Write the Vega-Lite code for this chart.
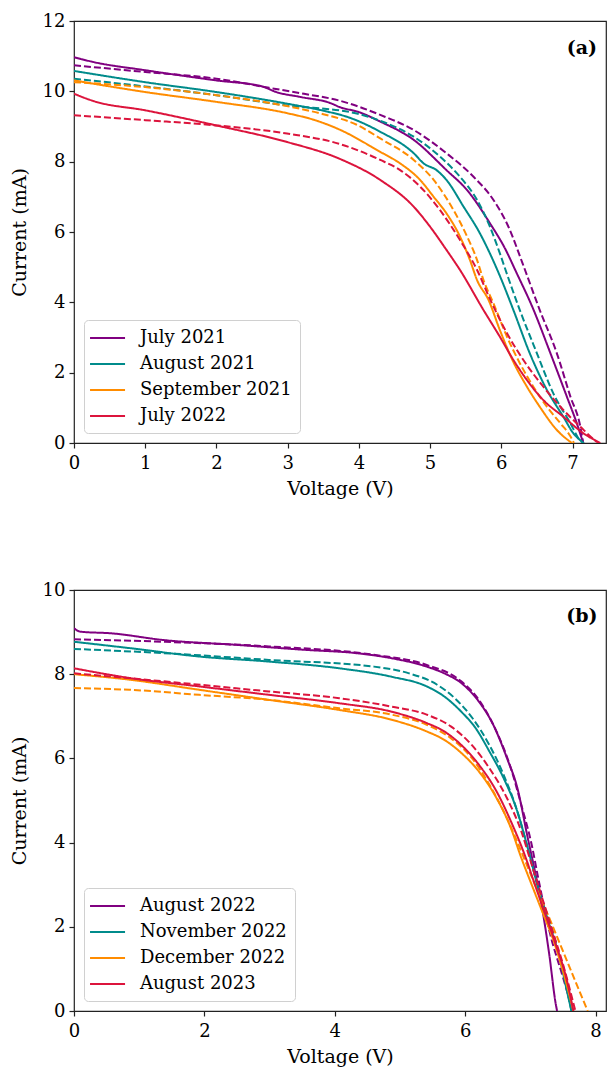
{
  "$schema": "https://vega.github.io/schema/vega-lite/v6.json",
  "background": "white",
  "padding": {"left": 9, "top": 11, "right": 0, "bottom": 0},
  "autosize": {"type": "pad"},
  "spacing": 81,
  "config": {
    "font": "DejaVu Serif",
    "view": {"stroke": "#222", "strokeWidth": 1.2},
    "axis": {"domain": false, "grid": false, "tickColor": "#222", "tickSize": 5, "tickWidth": 1.2, "labelFont": "DejaVu Serif", "labelFontSize": 18, "labelColor": "#000", "titleFont": "DejaVu Serif", "titleFontSize": 19, "titleFontWeight": "normal", "titleColor": "#000", "labelPadding": 4, "titlePadding": 5, "format": "d", "labelFlush": false},
    "axisX": {"labelPadding": 6, "titlePadding": 7},
    "axisY": {"titlePadding": 13},
    "legend": {"symbolType": "M-1.33,0H2.56", "symbolStrokeWidth": 2, "symbolSize": 324, "labelFont": "DejaVu Serif", "labelFontSize": 18, "labelColor": "#000", "fillColor": "white", "strokeColor": "#d0d0d0", "cornerRadius": 4, "padding": 8, "rowPadding": 7, "labelOffset": 28, "offset": 10, "title": null}
  },
  "datasets": {
    "a": [
      {"series":"July 2021","kind":"measured","V":0,"I":10.97},{"series":"July 2021","kind":"measured","V":0.28,"I":10.83},{"series":"July 2021","kind":"measured","V":1.0,"I":10.6},{"series":"July 2021","kind":"measured","V":2.0,"I":10.31},{"series":"July 2021","kind":"measured","V":2.64,"I":10.14},{"series":"July 2021","kind":"measured","V":2.84,"I":9.98},{"series":"July 2021","kind":"measured","V":3.18,"I":9.84},{"series":"July 2021","kind":"measured","V":3.62,"I":9.65},{"series":"July 2021","kind":"measured","V":3.72,"I":9.56},{"series":"July 2021","kind":"measured","V":4.0,"I":9.41},{"series":"July 2021","kind":"measured","V":4.3,"I":9.14},{"series":"July 2021","kind":"measured","V":4.77,"I":8.62},{"series":"July 2021","kind":"measured","V":5.23,"I":7.76},{"series":"July 2021","kind":"measured","V":5.52,"I":7.19},{"series":"July 2021","kind":"measured","V":5.84,"I":6.25},{"series":"July 2021","kind":"measured","V":6.06,"I":5.5},{"series":"July 2021","kind":"measured","V":6.2,"I":4.9},{"series":"July 2021","kind":"measured","V":6.45,"I":3.8},{"series":"July 2021","kind":"measured","V":6.69,"I":2.55},{"series":"July 2021","kind":"measured","V":6.92,"I":1.32},{"series":"July 2021","kind":"measured","V":7.06,"I":0.56},{"series":"July 2021","kind":"measured","V":7.15,"I":0},
      {"series":"July 2021","kind":"simulated","V":0,"I":10.74},{"series":"July 2021","kind":"simulated","V":1,"I":10.55},{"series":"July 2021","kind":"simulated","V":2,"I":10.36},{"series":"July 2021","kind":"simulated","V":2.74,"I":10.1},{"series":"July 2021","kind":"simulated","V":3.23,"I":9.93},{"series":"July 2021","kind":"simulated","V":3.72,"I":9.74},{"series":"July 2021","kind":"simulated","V":4.3,"I":9.33},{"series":"July 2021","kind":"simulated","V":4.77,"I":8.9},{"series":"July 2021","kind":"simulated","V":5.23,"I":8.24},{"series":"July 2021","kind":"simulated","V":5.61,"I":7.57},{"series":"July 2021","kind":"simulated","V":5.89,"I":6.91},{"series":"July 2021","kind":"simulated","V":6.1,"I":6.15},{"series":"July 2021","kind":"simulated","V":6.3,"I":5.1},{"series":"July 2021","kind":"simulated","V":6.54,"I":3.78},{"series":"July 2021","kind":"simulated","V":6.78,"I":2.55},{"series":"July 2021","kind":"simulated","V":6.97,"I":1.32},{"series":"July 2021","kind":"simulated","V":7.11,"I":0.46},{"series":"July 2021","kind":"simulated","V":7.15,"I":0},
      {"series":"August 2021","kind":"measured","V":0,"I":10.58},{"series":"August 2021","kind":"measured","V":1,"I":10.26},{"series":"August 2021","kind":"measured","V":2,"I":9.98},{"series":"August 2021","kind":"measured","V":2.99,"I":9.65},{"series":"August 2021","kind":"measured","V":3.5,"I":9.45},{"series":"August 2021","kind":"measured","V":3.87,"I":9.25},{"series":"August 2021","kind":"measured","V":4.3,"I":8.85},{"series":"August 2021","kind":"measured","V":4.77,"I":8.24},{"series":"August 2021","kind":"measured","V":4.91,"I":7.95},{"series":"August 2021","kind":"measured","V":5.09,"I":7.76},{"series":"August 2021","kind":"measured","V":5.23,"I":7.48},{"series":"August 2021","kind":"measured","V":5.47,"I":6.72},{"series":"August 2021","kind":"measured","V":5.7,"I":5.96},{"series":"August 2021","kind":"measured","V":5.84,"I":5.39},{"series":"August 2021","kind":"measured","V":5.98,"I":4.75},{"series":"August 2021","kind":"measured","V":6.17,"I":3.78},{"series":"August 2021","kind":"measured","V":6.4,"I":2.55},{"series":"August 2021","kind":"measured","V":6.64,"I":1.51},{"series":"August 2021","kind":"measured","V":6.87,"I":0.75},{"series":"August 2021","kind":"measured","V":7.01,"I":0.28},{"series":"August 2021","kind":"measured","V":7.16,"I":0},
      {"series":"August 2021","kind":"simulated","V":0,"I":10.36},{"series":"August 2021","kind":"simulated","V":1,"I":10.14},{"series":"August 2021","kind":"simulated","V":2,"I":9.89},{"series":"August 2021","kind":"simulated","V":2.99,"I":9.6},{"series":"August 2021","kind":"simulated","V":3.97,"I":9.37},{"series":"August 2021","kind":"simulated","V":4.3,"I":9.16},{"series":"August 2021","kind":"simulated","V":4.77,"I":8.71},{"series":"August 2021","kind":"simulated","V":5.14,"I":8.14},{"series":"August 2021","kind":"simulated","V":5.42,"I":7.57},{"series":"August 2021","kind":"simulated","V":5.66,"I":6.91},{"series":"August 2021","kind":"simulated","V":5.84,"I":6.15},{"series":"August 2021","kind":"simulated","V":5.98,"I":5.39},{"series":"August 2021","kind":"simulated","V":6.08,"I":4.8},{"series":"August 2021","kind":"simulated","V":6.26,"I":3.78},{"series":"August 2021","kind":"simulated","V":6.5,"I":2.55},{"series":"August 2021","kind":"simulated","V":6.73,"I":1.41},{"series":"August 2021","kind":"simulated","V":6.97,"I":0.56},{"series":"August 2021","kind":"simulated","V":7.1,"I":0.09},{"series":"August 2021","kind":"simulated","V":7.15,"I":0},
      {"series":"September 2021","kind":"measured","V":0,"I":10.31},{"series":"September 2021","kind":"measured","V":1,"I":9.98},{"series":"September 2021","kind":"measured","V":2,"I":9.7},{"series":"September 2021","kind":"measured","V":2.99,"I":9.38},{"series":"September 2021","kind":"measured","V":3.4,"I":9.17},{"series":"September 2021","kind":"measured","V":3.72,"I":8.92},{"series":"September 2021","kind":"measured","V":4.3,"I":8.28},{"series":"September 2021","kind":"measured","V":4.58,"I":7.95},{"series":"September 2021","kind":"measured","V":4.86,"I":7.48},{"series":"September 2021","kind":"measured","V":5.05,"I":7.0},{"series":"September 2021","kind":"measured","V":5.23,"I":6.53},{"series":"September 2021","kind":"measured","V":5.42,"I":5.87},{"series":"September 2021","kind":"measured","V":5.56,"I":5.2},{"series":"September 2021","kind":"measured","V":5.66,"I":4.63},{"series":"September 2021","kind":"measured","V":5.82,"I":4.07},{"series":"September 2021","kind":"measured","V":5.98,"I":3.21},{"series":"September 2021","kind":"measured","V":6.17,"I":2.3},{"series":"September 2021","kind":"measured","V":6.36,"I":1.6},{"series":"September 2021","kind":"measured","V":6.54,"I":1.03},{"series":"September 2021","kind":"measured","V":6.78,"I":0.37},{"series":"September 2021","kind":"measured","V":6.99,"I":0},
      {"series":"September 2021","kind":"simulated","V":0,"I":10.26},{"series":"September 2021","kind":"simulated","V":1,"I":10.12},{"series":"September 2021","kind":"simulated","V":2,"I":9.89},{"series":"September 2021","kind":"simulated","V":2.99,"I":9.58},{"series":"September 2021","kind":"simulated","V":3.5,"I":9.35},{"series":"September 2021","kind":"simulated","V":3.97,"I":9.05},{"series":"September 2021","kind":"simulated","V":4.3,"I":8.66},{"series":"September 2021","kind":"simulated","V":4.77,"I":8.05},{"series":"September 2021","kind":"simulated","V":5.05,"I":7.48},{"series":"September 2021","kind":"simulated","V":5.33,"I":6.62},{"series":"September 2021","kind":"simulated","V":5.52,"I":5.87},{"series":"September 2021","kind":"simulated","V":5.66,"I":5.2},{"series":"September 2021","kind":"simulated","V":5.75,"I":4.63},{"series":"September 2021","kind":"simulated","V":5.89,"I":3.97},{"series":"September 2021","kind":"simulated","V":6.08,"I":3.02},{"series":"September 2021","kind":"simulated","V":6.26,"I":2.27},{"series":"September 2021","kind":"simulated","V":6.45,"I":1.6},{"series":"September 2021","kind":"simulated","V":6.64,"I":1.03},{"series":"September 2021","kind":"simulated","V":6.83,"I":0.56},{"series":"September 2021","kind":"simulated","V":6.97,"I":0.19},{"series":"September 2021","kind":"simulated","V":7.02,"I":0},
      {"series":"July 2022","kind":"measured","V":0,"I":9.93},{"series":"July 2022","kind":"measured","V":0.28,"I":9.72},{"series":"July 2022","kind":"measured","V":1,"I":9.46},{"series":"July 2022","kind":"measured","V":2,"I":9.03},{"series":"July 2022","kind":"measured","V":2.99,"I":8.56},{"series":"July 2022","kind":"measured","V":3.72,"I":8.09},{"series":"July 2022","kind":"measured","V":4.3,"I":7.48},{"series":"July 2022","kind":"measured","V":4.77,"I":6.72},{"series":"July 2022","kind":"measured","V":5.0,"I":6.15},{"series":"July 2022","kind":"measured","V":5.23,"I":5.49},{"series":"July 2022","kind":"measured","V":5.42,"I":4.92},{"series":"July 2022","kind":"measured","V":5.75,"I":3.78},{"series":"July 2022","kind":"measured","V":5.98,"I":3.02},{"series":"July 2022","kind":"measured","V":6.17,"I":2.36},{"series":"July 2022","kind":"measured","V":6.36,"I":1.79},{"series":"July 2022","kind":"measured","V":6.59,"I":1.22},{"series":"July 2022","kind":"measured","V":6.87,"I":0.75},{"series":"July 2022","kind":"measured","V":7.15,"I":0.28},{"series":"July 2022","kind":"measured","V":7.39,"I":0},
      {"series":"July 2022","kind":"simulated","V":0,"I":9.32},{"series":"July 2022","kind":"simulated","V":1,"I":9.18},{"series":"July 2022","kind":"simulated","V":2,"I":9.03},{"series":"July 2022","kind":"simulated","V":2.99,"I":8.8},{"series":"July 2022","kind":"simulated","V":3.72,"I":8.51},{"series":"July 2022","kind":"simulated","V":4.3,"I":8.05},{"series":"July 2022","kind":"simulated","V":4.58,"I":7.76},{"series":"July 2022","kind":"simulated","V":4.86,"I":7.29},{"series":"July 2022","kind":"simulated","V":5.14,"I":6.62},{"series":"July 2022","kind":"simulated","V":5.42,"I":5.77},{"series":"July 2022","kind":"simulated","V":5.66,"I":4.92},{"series":"July 2022","kind":"simulated","V":5.84,"I":4.1},{"series":"July 2022","kind":"simulated","V":6.08,"I":3.12},{"series":"July 2022","kind":"simulated","V":6.31,"I":2.36},{"series":"July 2022","kind":"simulated","V":6.59,"I":1.6},{"series":"July 2022","kind":"simulated","V":6.83,"I":1.03},{"series":"July 2022","kind":"simulated","V":7.11,"I":0.46},{"series":"July 2022","kind":"simulated","V":7.34,"I":0.04},{"series":"July 2022","kind":"simulated","V":7.37,"I":0}
    ],
    "b": [
      {"series":"August 2022","kind":"measured","V":0,"I":9.09},{"series":"August 2022","kind":"measured","V":0.1,"I":9.01},{"series":"August 2022","kind":"measured","V":0.58,"I":8.97},{"series":"August 2022","kind":"measured","V":1.38,"I":8.81},{"series":"August 2022","kind":"measured","V":2.46,"I":8.7},{"series":"August 2022","kind":"measured","V":3.53,"I":8.58},{"series":"August 2022","kind":"measured","V":4.33,"I":8.5},{"series":"August 2022","kind":"measured","V":4.87,"I":8.38},{"series":"August 2022","kind":"measured","V":5.41,"I":8.18},{"series":"August 2022","kind":"measured","V":5.68,"I":8.02},{"series":"August 2022","kind":"measured","V":5.94,"I":7.79},{"series":"August 2022","kind":"measured","V":6.21,"I":7.35},{"series":"August 2022","kind":"measured","V":6.43,"I":6.8},{"series":"August 2022","kind":"measured","V":6.64,"I":6.01},{"series":"August 2022","kind":"measured","V":6.8,"I":5.3},{"series":"August 2022","kind":"measured","V":6.96,"I":4.11},{"series":"August 2022","kind":"measured","V":7.07,"I":3.32},{"series":"August 2022","kind":"measured","V":7.18,"I":2.45},{"series":"August 2022","kind":"measured","V":7.29,"I":1.34},{"series":"August 2022","kind":"measured","V":7.39,"I":0.16},{"series":"August 2022","kind":"measured","V":7.41,"I":0},
      {"series":"August 2022","kind":"simulated","V":0,"I":8.83},{"series":"August 2022","kind":"simulated","V":1.38,"I":8.77},{"series":"August 2022","kind":"simulated","V":2.99,"I":8.66},{"series":"August 2022","kind":"simulated","V":4.6,"I":8.46},{"series":"August 2022","kind":"simulated","V":5.41,"I":8.22},{"series":"August 2022","kind":"simulated","V":5.94,"I":7.83},{"series":"August 2022","kind":"simulated","V":6.21,"I":7.39},{"series":"August 2022","kind":"simulated","V":6.48,"I":6.64},{"series":"August 2022","kind":"simulated","V":6.7,"I":5.77},{"series":"August 2022","kind":"simulated","V":6.86,"I":4.9},{"series":"August 2022","kind":"simulated","V":7.02,"I":3.95},{"series":"August 2022","kind":"simulated","V":7.12,"I":3.16},{"series":"August 2022","kind":"simulated","V":7.3,"I":1.85},{"series":"August 2022","kind":"simulated","V":7.5,"I":0.8},{"series":"August 2022","kind":"simulated","V":7.65,"I":0},
      {"series":"November 2022","kind":"measured","V":0,"I":8.77},{"series":"November 2022","kind":"measured","V":0.85,"I":8.62},{"series":"November 2022","kind":"measured","V":1.92,"I":8.42},{"series":"November 2022","kind":"measured","V":2.99,"I":8.3},{"series":"November 2022","kind":"measured","V":4.07,"I":8.14},{"series":"November 2022","kind":"measured","V":4.87,"I":7.94},{"series":"November 2022","kind":"measured","V":5.41,"I":7.71},{"series":"November 2022","kind":"measured","V":5.68,"I":7.47},{"series":"November 2022","kind":"measured","V":5.94,"I":7.11},{"series":"November 2022","kind":"measured","V":6.16,"I":6.72},{"series":"November 2022","kind":"measured","V":6.37,"I":6.17},{"series":"November 2022","kind":"measured","V":6.59,"I":5.53},{"series":"November 2022","kind":"measured","V":6.8,"I":4.74},{"series":"November 2022","kind":"measured","V":6.96,"I":3.87},{"series":"November 2022","kind":"measured","V":7.12,"I":2.92},{"series":"November 2022","kind":"measured","V":7.29,"I":2.06},{"series":"November 2022","kind":"measured","V":7.45,"I":1.26},{"series":"November 2022","kind":"measured","V":7.55,"I":0.55},{"series":"November 2022","kind":"measured","V":7.63,"I":0},
      {"series":"November 2022","kind":"simulated","V":0,"I":8.6},{"series":"November 2022","kind":"simulated","V":1.38,"I":8.5},{"series":"November 2022","kind":"simulated","V":2.99,"I":8.34},{"series":"November 2022","kind":"simulated","V":4.6,"I":8.18},{"series":"November 2022","kind":"simulated","V":5.14,"I":8.02},{"series":"November 2022","kind":"simulated","V":5.57,"I":7.75},{"series":"November 2022","kind":"simulated","V":5.84,"I":7.43},{"series":"November 2022","kind":"simulated","V":6.11,"I":6.96},{"series":"November 2022","kind":"simulated","V":6.37,"I":6.32},{"series":"November 2022","kind":"simulated","V":6.59,"I":5.61},{"series":"November 2022","kind":"simulated","V":6.8,"I":4.74},{"series":"November 2022","kind":"simulated","V":6.96,"I":3.87},{"series":"November 2022","kind":"simulated","V":7.12,"I":2.92},{"series":"November 2022","kind":"simulated","V":7.34,"I":1.9},{"series":"November 2022","kind":"simulated","V":7.5,"I":0.95},{"series":"November 2022","kind":"simulated","V":7.63,"I":0},
      {"series":"December 2022","kind":"measured","V":0,"I":8.0},{"series":"December 2022","kind":"measured","V":0.85,"I":7.87},{"series":"December 2022","kind":"measured","V":1.92,"I":7.63},{"series":"December 2022","kind":"measured","V":2.99,"I":7.39},{"series":"December 2022","kind":"measured","V":4.07,"I":7.15},{"series":"December 2022","kind":"measured","V":4.87,"I":6.92},{"series":"December 2022","kind":"measured","V":5.41,"I":6.64},{"series":"December 2022","kind":"measured","V":5.68,"I":6.44},{"series":"December 2022","kind":"measured","V":5.94,"I":6.13},{"series":"December 2022","kind":"measured","V":6.21,"I":5.69},{"series":"December 2022","kind":"measured","V":6.48,"I":5.06},{"series":"December 2022","kind":"measured","V":6.7,"I":4.35},{"series":"December 2022","kind":"measured","V":6.86,"I":3.64},{"series":"December 2022","kind":"measured","V":7.02,"I":3.0},{"series":"December 2022","kind":"measured","V":7.18,"I":2.37},{"series":"December 2022","kind":"measured","V":7.34,"I":1.74},{"series":"December 2022","kind":"measured","V":7.5,"I":0.95},{"series":"December 2022","kind":"measured","V":7.66,"I":0},
      {"series":"December 2022","kind":"simulated","V":0,"I":7.67},{"series":"December 2022","kind":"simulated","V":0.85,"I":7.63},{"series":"December 2022","kind":"simulated","V":1.92,"I":7.51},{"series":"December 2022","kind":"simulated","V":2.99,"I":7.39},{"series":"December 2022","kind":"simulated","V":4.07,"I":7.19},{"series":"December 2022","kind":"simulated","V":4.87,"I":7.04},{"series":"December 2022","kind":"simulated","V":5.41,"I":6.8},{"series":"December 2022","kind":"simulated","V":5.78,"I":6.48},{"series":"December 2022","kind":"simulated","V":6.1,"I":6.01},{"series":"December 2022","kind":"simulated","V":6.37,"I":5.38},{"series":"December 2022","kind":"simulated","V":6.64,"I":4.58},{"series":"December 2022","kind":"simulated","V":6.86,"I":3.79},{"series":"December 2022","kind":"simulated","V":7.07,"I":3.0},{"series":"December 2022","kind":"simulated","V":7.29,"I":2.21},{"series":"December 2022","kind":"simulated","V":7.5,"I":1.42},{"series":"December 2022","kind":"simulated","V":7.71,"I":0.63},{"series":"December 2022","kind":"simulated","V":7.88,"I":0},
      {"series":"August 2023","kind":"measured","V":0,"I":8.14},{"series":"August 2023","kind":"measured","V":0.85,"I":7.91},{"series":"August 2023","kind":"measured","V":1.92,"I":7.71},{"series":"August 2023","kind":"measured","V":2.99,"I":7.51},{"series":"August 2023","kind":"measured","V":4.07,"I":7.31},{"series":"August 2023","kind":"measured","V":4.87,"I":7.11},{"series":"August 2023","kind":"measured","V":5.41,"I":6.84},{"series":"August 2023","kind":"measured","V":5.68,"I":6.64},{"series":"August 2023","kind":"measured","V":5.94,"I":6.32},{"series":"August 2023","kind":"measured","V":6.21,"I":5.85},{"series":"August 2023","kind":"measured","V":6.48,"I":5.22},{"series":"August 2023","kind":"measured","V":6.7,"I":4.51},{"series":"August 2023","kind":"measured","V":6.91,"I":3.72},{"series":"August 2023","kind":"measured","V":7.07,"I":3.0},{"series":"August 2023","kind":"measured","V":7.23,"I":2.29},{"series":"August 2023","kind":"measured","V":7.39,"I":1.58},{"series":"August 2023","kind":"measured","V":7.55,"I":0.79},{"series":"August 2023","kind":"measured","V":7.66,"I":0},
      {"series":"August 2023","kind":"simulated","V":0,"I":8.02},{"series":"August 2023","kind":"simulated","V":1.38,"I":7.83},{"series":"August 2023","kind":"simulated","V":2.99,"I":7.59},{"series":"August 2023","kind":"simulated","V":4.07,"I":7.43},{"series":"August 2023","kind":"simulated","V":4.87,"I":7.23},{"series":"August 2023","kind":"simulated","V":5.41,"I":7.04},{"series":"August 2023","kind":"simulated","V":5.78,"I":6.76},{"series":"August 2023","kind":"simulated","V":6.1,"I":6.32},{"series":"August 2023","kind":"simulated","V":6.37,"I":5.77},{"series":"August 2023","kind":"simulated","V":6.64,"I":5.06},{"series":"August 2023","kind":"simulated","V":6.86,"I":4.27},{"series":"August 2023","kind":"simulated","V":7.02,"I":3.48},{"series":"August 2023","kind":"simulated","V":7.18,"I":2.69},{"series":"August 2023","kind":"simulated","V":7.34,"I":1.9},{"series":"August 2023","kind":"simulated","V":7.5,"I":1.11},{"series":"August 2023","kind":"simulated","V":7.69,"I":0}
    ]
  },
  "resolve": {"scale": {"x": "independent", "y": "independent", "color": "independent", "strokeDash": "independent"}, "legend": {"color": "independent"}},
  "vconcat": [
    {
      "width": 532, "height": 422,
      "layer": [
        {
          "data": {"name": "a"},
          "mark": {"type": "line", "strokeWidth": 2, "clip": true, "interpolate": "monotone"},
          "encoding": {
            "x": {"field": "V", "type": "quantitative", "scale": {"domain": [0, 7.47], "nice": false}, "axis": {"values": [0,1,2,3,4,5,6,7], "title": "Voltage (V)"}},
            "y": {"field": "I", "type": "quantitative", "scale": {"domain": [0, 12], "nice": false}, "axis": {"values": [0,2,4,6,8,10,12], "title": "Current (mA)"}},
            "color": {"field": "series", "type": "nominal", "scale": {"domain": ["July 2021","August 2021","September 2021","July 2022"], "range": ["#800080","#008b8b","#ff8c00","#dc143c"]}, "legend": {"orient": "bottom-left", "title": null}},
            "strokeDash": {"field": "kind", "type": "nominal", "scale": {"domain": ["measured","simulated"], "range": [[1,0],[7,3]]}, "legend": null},
            "order": {"field": "V", "type": "quantitative"}
          }
        },
        {
          "data": {"values": [{"label": "(a)"}]},
          "mark": {"type": "text", "fontWeight": "bold", "fontSize": 19, "font": "DejaVu Serif", "align": "center", "baseline": "middle"},
          "encoding": {
            "x": {"datum": 7.13, "type": "quantitative"},
            "y": {"datum": 11.22, "type": "quantitative"},
            "text": {"field": "label"}
          }
        }
      ]
    },
    {
      "width": 532, "height": 421,
      "layer": [
        {
          "data": {"name": "b"},
          "mark": {"type": "line", "strokeWidth": 2, "clip": true, "interpolate": "monotone"},
          "encoding": {
            "x": {"field": "V", "type": "quantitative", "scale": {"domain": [0, 8.16], "nice": false}, "axis": {"values": [0,2,4,6,8], "title": "Voltage (V)"}},
            "y": {"field": "I", "type": "quantitative", "scale": {"domain": [0, 10], "nice": false}, "axis": {"values": [0,2,4,6,8,10], "title": "Current (mA)"}},
            "color": {"field": "series", "type": "nominal", "scale": {"domain": ["August 2022","November 2022","December 2022","August 2023"], "range": ["#800080","#008b8b","#ff8c00","#dc143c"]}, "legend": {"orient": "bottom-left", "title": null}},
            "strokeDash": {"field": "kind", "type": "nominal", "scale": {"domain": ["measured","simulated"], "range": [[1,0],[7,3]]}, "legend": null},
            "order": {"field": "V", "type": "quantitative"}
          }
        },
        {
          "data": {"values": [{"label": "(b)"}]},
          "mark": {"type": "text", "fontWeight": "bold", "fontSize": 19, "font": "DejaVu Serif", "align": "center", "baseline": "middle"},
          "encoding": {
            "x": {"datum": 7.79, "type": "quantitative"},
            "y": {"datum": 9.38, "type": "quantitative"},
            "text": {"field": "label"}
          }
        }
      ]
    }
  ]
}
